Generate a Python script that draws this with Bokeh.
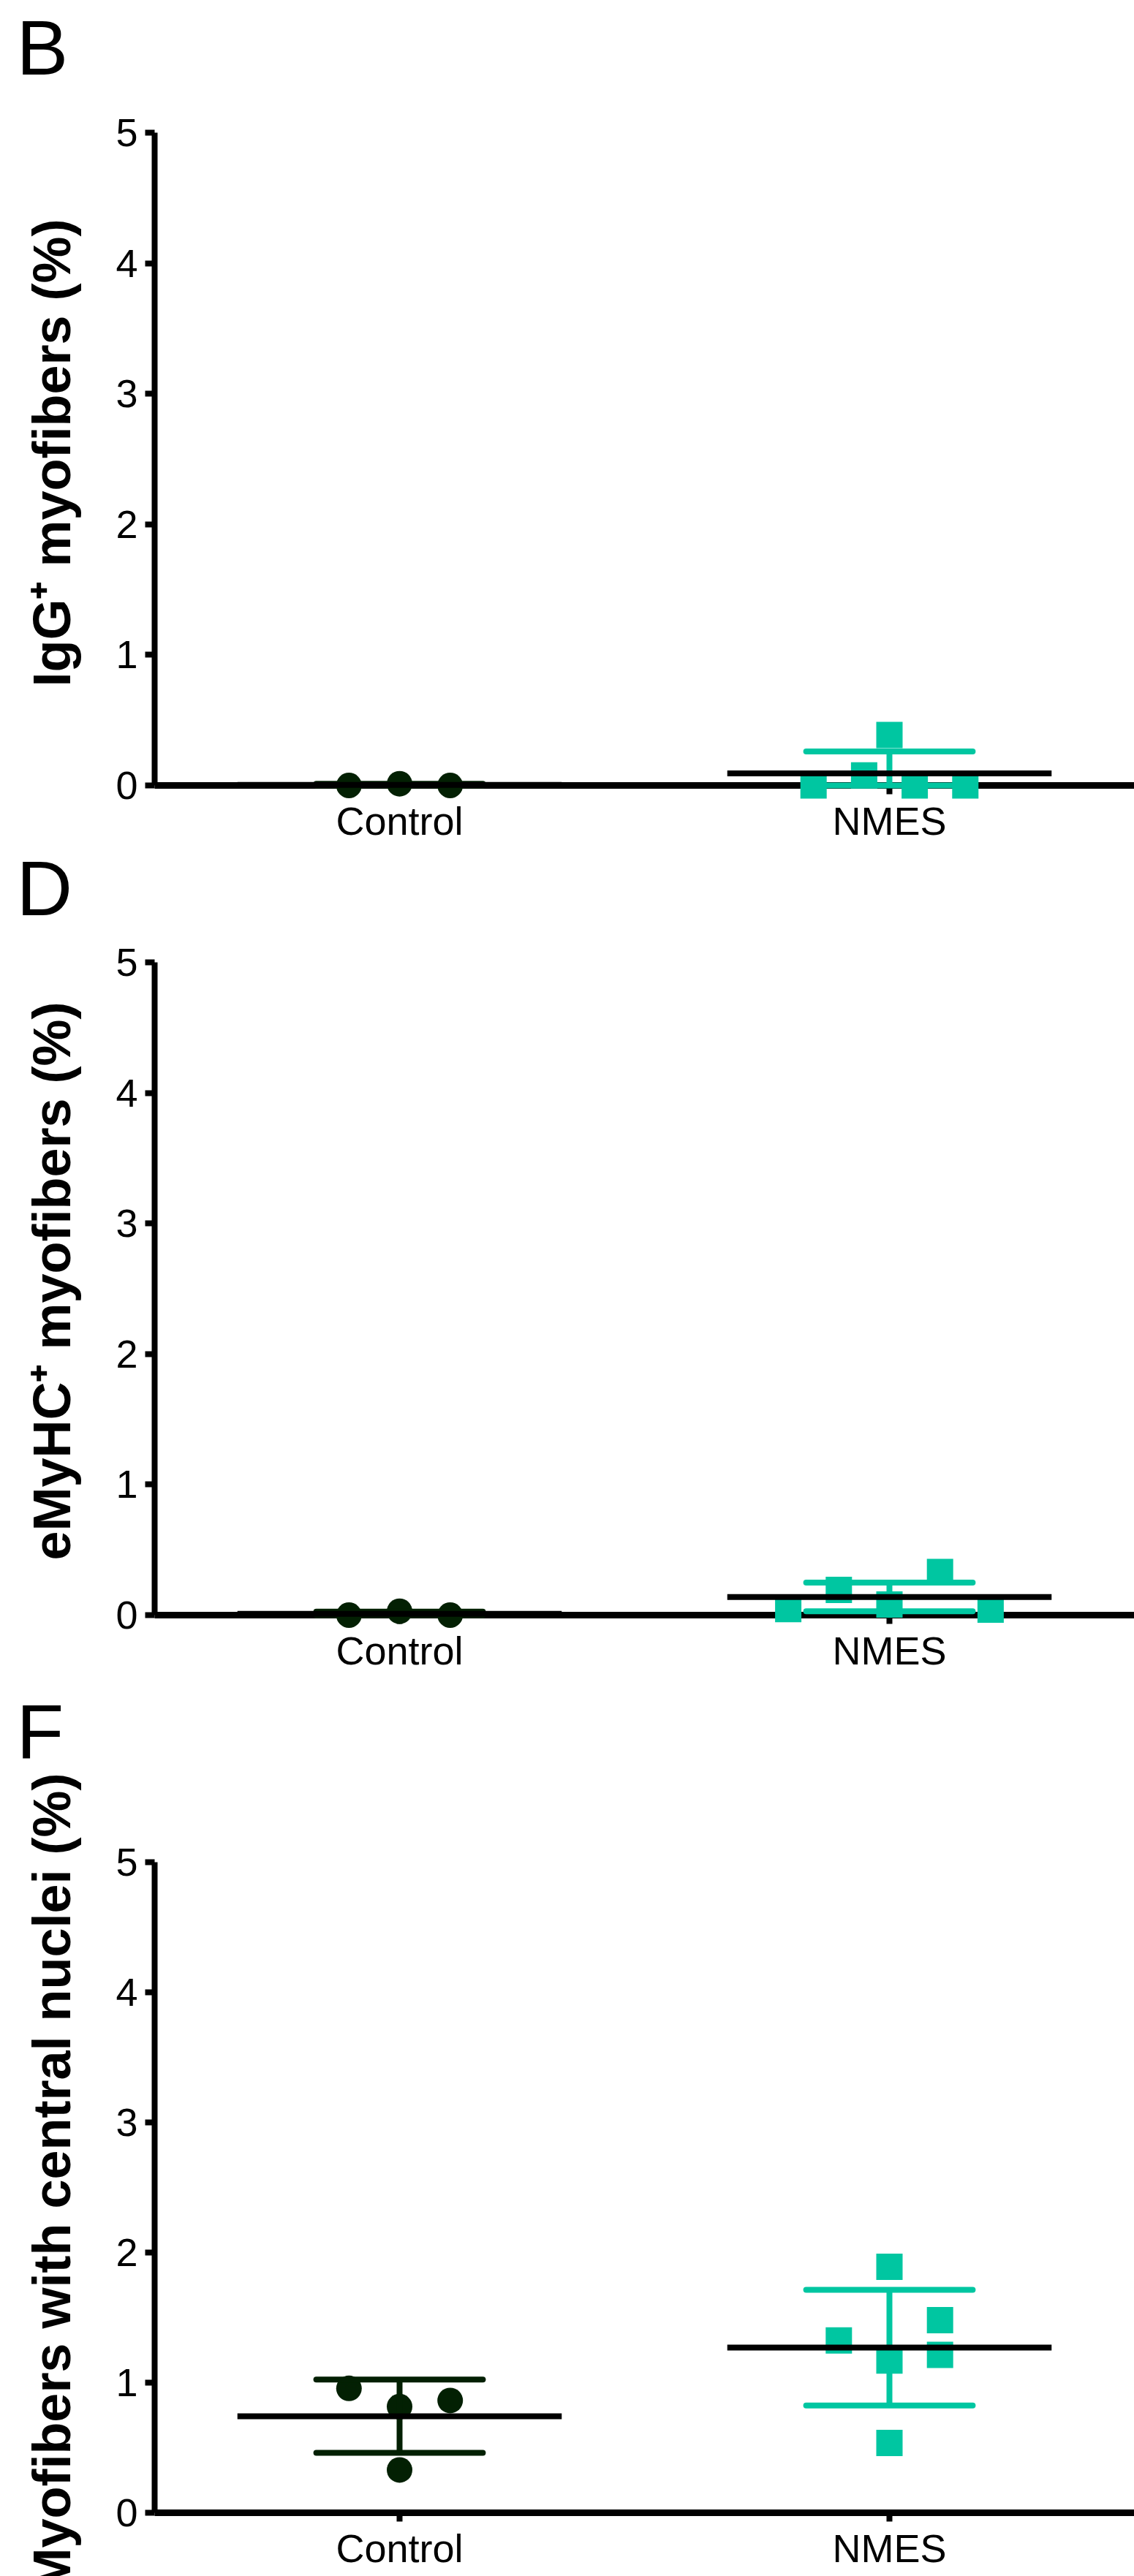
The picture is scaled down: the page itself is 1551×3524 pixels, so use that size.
import numpy as np
from bokeh.plotting import figure
from bokeh.layouts import column
from bokeh.models import Range1d, FixedTicker, Label
from bokeh.embed import file_html
from bokeh.resources import INLINE

# ---------------- data ----------------
groups = ["Control", "NMES"]
group_pos = [0.5, 1.5]
y_ticks = [0, 1, 2, 3, 4, 5]

# Panel B: IgG+ myofibers (%)
igg_ctrl = [0.0, 0.013, 0.0]
igg_ctrl_slot = [-2, 0, 2]
igg_nmes = [0.0, 0.077, 0.386, 0.0, 0.0]
igg_nmes_slot = [-3, -1, 0, 1, 3]
igg_mean = [0.004, 0.092]
igg_sd = [0.008, 0.169]

# Panel D: eMyHC+ myofibers (%)
emyhc_ctrl = [0.0, 0.03, 0.0]
emyhc_ctrl_slot = [-2, 0, 2]
emyhc_nmes = [0.046, 0.193, 0.081, 0.331, 0.042]
emyhc_nmes_slot = [-4, -2, 0, 2, 4]
emyhc_mean = [0.01, 0.139]
emyhc_sd = [0.017, 0.11]

# Panel F: Myofibers with central nuclei (%)
cn_ctrl = [0.956, 0.816, 0.863, 0.329]
cn_ctrl_slot = [-2, 0, 2, 0]
cn_nmes = [1.325, 1.89, 1.17, 0.536, 1.48, 1.214]
cn_nmes_slot = [-2, 0, 0, 0, 2, 2]
cn_mean = [0.742, 1.269]
cn_sd = [0.282, 0.445]

# ---------------- styling ----------------
FONT = "Liberation Sans"
TEAL = "#00c6a1"
DARK = "#032003"
W = 1551
AXIS_X = 211            # pixel column of the y axis
UNIT_X = 670.0          # pixels per category unit
SLOT = 34.6 / UNIT_X    # jitter step in category units
MEAN_HALF = 0.331
CAP_HALF = 0.170
TITLE_X = 70            # pixel column of the rotated y title's middle
LETTER_X = 22


def panel(letter, ylabel, ctrl, ctrl_slot, nmes, nmes_slot, mean, sd,
          fig_h, zero_px, unit_px, title_c, letter_mid):
    y_end = zero_px / unit_px
    y_start = -(fig_h - zero_px) / unit_px
    x_start = -AXIS_X / UNIT_X
    x_end = (W - AXIS_X) / UNIT_X
    p = figure(width=W, height=fig_h, output_backend="svg", toolbar_location=None,
               x_range=Range1d(x_start, x_end), y_range=Range1d(y_start, y_end),
               min_border_left=0, min_border_right=0,
               min_border_top=0, min_border_bottom=0)
    p.outline_line_color = None
    p.grid.visible = False
    p.background_fill_color = "white"
    p.border_fill_color = "white"

    # y axis (drawn at x = 0)
    ya = p.yaxis[0]
    ya.fixed_location = 0
    ya.bounds = (0, 5)
    ya.ticker = FixedTicker(ticks=y_ticks, minor_ticks=[])
    ya.axis_line_width = 8
    ya.axis_line_color = "black"
    ya.major_tick_line_width = 8
    ya.major_tick_in = 0
    ya.major_tick_out = 13
    ya.minor_tick_line_color = None
    ya.major_label_text_font = FONT
    ya.major_label_text_font_size = "54px"
    ya.major_label_text_color = "black"
    ya.major_label_standoff = 10

    # x axis (drawn at y = 0, from the y axis to the right edge)
    xa = p.xaxis[0]
    xa.fixed_location = 0
    xa.bounds = (0, x_end)
    xa.ticker = FixedTicker(ticks=group_pos, minor_ticks=[])
    xa.major_label_overrides = {group_pos[i]: groups[i] for i in range(2)}
    xa.axis_line_width = 9
    xa.axis_line_color = "black"
    xa.major_tick_line_width = 8
    xa.major_tick_in = 0
    xa.major_tick_out = 12
    xa.minor_tick_line_color = None
    xa.major_label_text_font = FONT
    xa.major_label_text_font_size = "54px"
    xa.major_label_text_color = "black"
    xa.major_label_standoff = 6

    renderers = []
    # points
    cx = group_pos[0] + np.array(ctrl_slot) * SLOT
    nx = group_pos[1] + np.array(nmes_slot) * SLOT
    renderers.append(p.scatter(cx, ctrl, marker="circle", size=35,
                               fill_color=DARK, line_color=None))
    renderers.append(p.scatter(nx, nmes, marker="square", size=36,
                               fill_color=TEAL, line_color=None))

    # error bars (mean +/- SD, clipped at the axis minimum)
    m = np.array(mean)
    s = np.array(sd)
    lo = np.maximum(m - s, 0)
    hi = m + s
    gx = np.array(group_pos)
    cols = [DARK, TEAL]
    for i in range(2):
        renderers.append(p.segment(x0=[gx[i]], y0=[lo[i]], x1=[gx[i]], y1=[hi[i]],
                                   line_color=cols[i], line_width=8, line_cap="butt"))
        renderers.append(p.segment(x0=[gx[i] - CAP_HALF] * 2, y0=[lo[i], hi[i]],
                                   x1=[gx[i] + CAP_HALF] * 2, y1=[lo[i], hi[i]],
                                   line_color=cols[i], line_width=8, line_cap="round"))
    # mean lines
    renderers.append(p.segment(x0=gx - MEAN_HALF, y0=m, x1=gx + MEAN_HALF, y1=m,
                               line_color="black", line_width=8, line_cap="butt"))
    for r in renderers:
        r.level = "overlay"

    # y axis title (rotated, reads bottom to top)
    title = Label(x=(TITLE_X - AXIS_X) / UNIT_X, y=(zero_px - title_c) / unit_px,
                  text=ylabel, angle=np.pi / 2, text_font=FONT, text_font_style="bold",
                  text_font_size="72px", text_color="black",
                  text_align="center", text_baseline="middle")
    p.add_layout(title)

    # panel letter
    lab = Label(x=(LETTER_X - AXIS_X) / UNIT_X, y=(zero_px - letter_mid) / unit_px,
                text=letter, text_font=FONT, text_font_size="106px",
                text_color="black", text_baseline="middle", text_align="left")
    p.add_layout(lab)
    return p


pB = panel("B", "IgG\u207a myofibers (%)", igg_ctrl, igg_ctrl_slot, igg_nmes, igg_nmes_slot,
           igg_mean, igg_sd, fig_h=1160, zero_px=1074, unit_px=178.6, title_c=619, letter_mid=64)
pD = panel("D", "eMyHC\u207a myofibers (%)", emyhc_ctrl, emyhc_ctrl_slot, emyhc_nmes, emyhc_nmes_slot,
           emyhc_mean, emyhc_sd, fig_h=1140, zero_px=1049, unit_px=178.6, title_c=592, letter_mid=54)
pF = panel("F", "Myofibers with central nuclei (%)", cn_ctrl, cn_ctrl_slot, cn_nmes, cn_nmes_slot,
           cn_mean, cn_sd, fig_h=1224, zero_px=1137, unit_px=178.0, title_c=685, letter_mid=68)

layout = column(pB, pD, pF, spacing=0)
open("out.html", "w").write(file_html(layout, INLINE))
